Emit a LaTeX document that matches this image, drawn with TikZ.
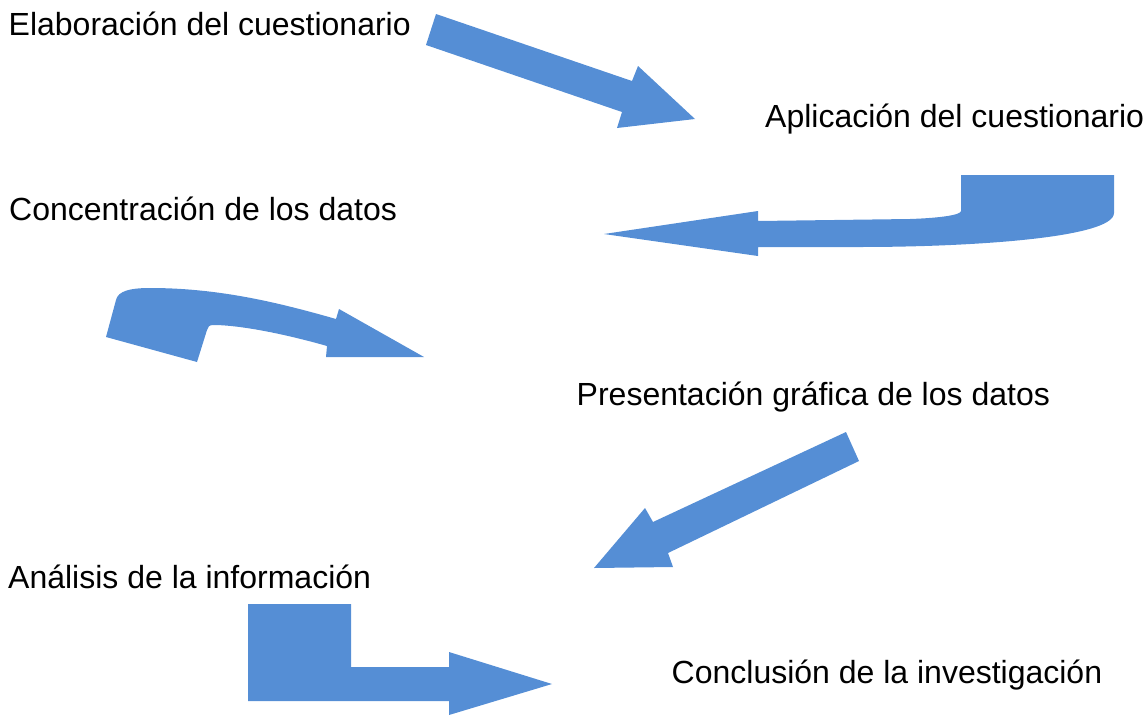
\documentclass[tikz,border=0pt]{standalone}
\usepackage{fontspec}
\setmainfont{Liberation Sans}
\definecolor{arrowblue}{HTML}{558ED5}
\begin{document}
\begin{tikzpicture}[x=1pt,y=-1pt,
  lbl/.style={anchor=base west,inner sep=0pt,font=\fontsize{32}{38}\selectfont},
  blockarrow/.style={fill=arrowblue,draw=none}]
\useasboundingbox (0,0) rectangle (1148,715);
% labels
\node[lbl] (t1) at (8.5,35) {Elaboración del cuestionario};
\node[lbl] (t2) at (765,127) {Aplicación del cuestionario};
\node[lbl] (t3) at (9,220) {Concentración de los datos};
\node[lbl] (t4) at (576.5,405) {Presentación gráfica de los datos};
\node[lbl] (t5) at (8,588) {Análisis de la información};
\node[lbl] (t6) at (671.5,683) {Conclusión de la investigación};
% arrow 1
\fill[blockarrow] (436,14) -- (632,81) -- (638,66) -- (695,119) -- (617,128) -- (622,112) -- (426,45) -- cycle;
% arrow 2
\fill[blockarrow] (604,234) -- (758,211) -- (758,221) -- (910,219)
  .. controls (940,218) and (961,215) .. (961,211) -- (961,175) -- (1114,175) -- (1114,213)
  .. controls (1114,238) and (970,247) .. (860,247) -- (758,247) -- (758,256) -- cycle;
% arrow 3
\fill[blockarrow] (106,337) -- (116,300) .. controls (118,291) and (130,288) .. (150,288)
  .. controls (220,288) and (280,303) .. (336,319) -- (339,309) -- (424,357) -- (326,357) -- (327,346)
  .. controls (285,334) and (240,325) .. (213,325) .. controls (209,325) and (208,327) .. (207,330)
  -- (197,362) -- cycle;
% arrow 4
\fill[blockarrow] (846,432) -- (859,461) -- (668,553) -- (673,567) -- (594,568) -- (645,508) -- (653,522) -- cycle;
% arrow 5
\fill[blockarrow] (248,604) -- (351,604) -- (351,667) -- (449,667) -- (449,652) -- (552,684) -- (449,715) -- (449,701) -- (248,701) -- cycle;
\end{tikzpicture}
\end{document}
